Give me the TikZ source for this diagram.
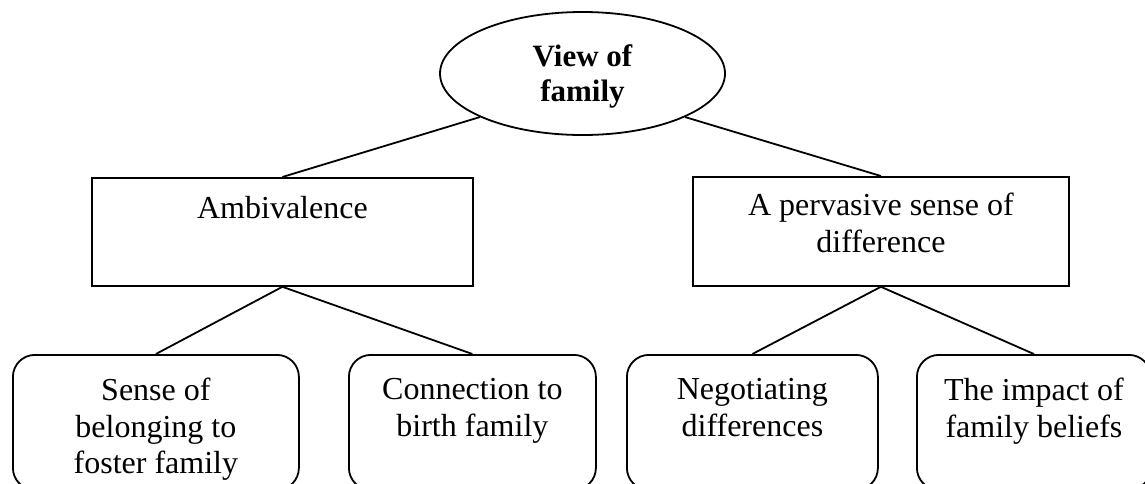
\documentclass[tikz,border=0pt]{standalone}
\usepackage{fontspec}
\setmainfont{Liberation Serif}
\usetikzlibrary{shapes.geometric,positioning}
\tikzset{
  conn/.style={line width=1.8pt},
  sqbox/.style={draw, line width=1.8pt, rectangle, inner sep=0pt, anchor=north west},
  rbox/.style={draw, line width=1.8pt, rectangle, rounded corners=22pt, inner sep=0pt, anchor=north west, minimum height=135pt},
  oval/.style={draw, line width=1.8pt, ellipse, inner sep=0pt, minimum width=285pt, minimum height=123pt},
  lbl/.style={inner sep=0pt, anchor=north, align=center, font=\fontsize{32}{36.5}\selectfont},
  blbl/.style={inner sep=0pt, anchor=north, align=center, font=\fontsize{31}{35}\selectfont\bfseries}
}
\begin{document}
\begin{tikzpicture}[x=1pt,y=-1pt]
\useasboundingbox (0,0) rectangle (1145,483);
% top
\node[oval] (top) at (582.5,73.5) {};
\node[blbl, below=33.6pt of top.north] (toptxt) {View of\\family};
% middle
\node[sqbox, minimum width=381pt, minimum height=108pt] (amb) at (91,177) {};
\node[lbl, below=19.2pt of amb.north] (ambtxt) {Ambivalence};
\node[sqbox, minimum width=376pt, minimum height=109pt] (perv) at (692,176) {};
\node[lbl, below=17.2pt of perv.north] (pervtxt) {A pervasive sense of\\difference};
% bottom
\node[rbox, minimum width=286pt] (b1) at (12,354) {};
\node[lbl, below=24.2pt of b1.north] (b1txt) {Sense of\\belonging to\\foster family};
\node[rbox, minimum width=247pt] (b2) at (348,354) {};
\node[lbl, below=24.2pt of b2.north] (b2txt) {Connection to\\birth family};
\node[rbox, minimum width=251pt] (b3) at (626,354) {};
\node[lbl, below=24.2pt of b3.north] (b3txt) {Negotiating\\differences};
\node[rbox, minimum width=234pt] (b4) at (916,354) {};
\node[lbl, below=24.2pt of b4.north] (b4txt) {The impact of\\family beliefs};
% connectors
\draw[conn] (top.203) -- (amb.north);
\draw[conn] (top.337) -- (perv.north);
\draw[conn] (amb.south) -- (b1.north);
\draw[conn] (amb.south) -- (b2.north);
\draw[conn] (perv.south) -- (b3.north);
\draw[conn] (perv.south) -- (b4.north);
\end{tikzpicture}
\end{document}
